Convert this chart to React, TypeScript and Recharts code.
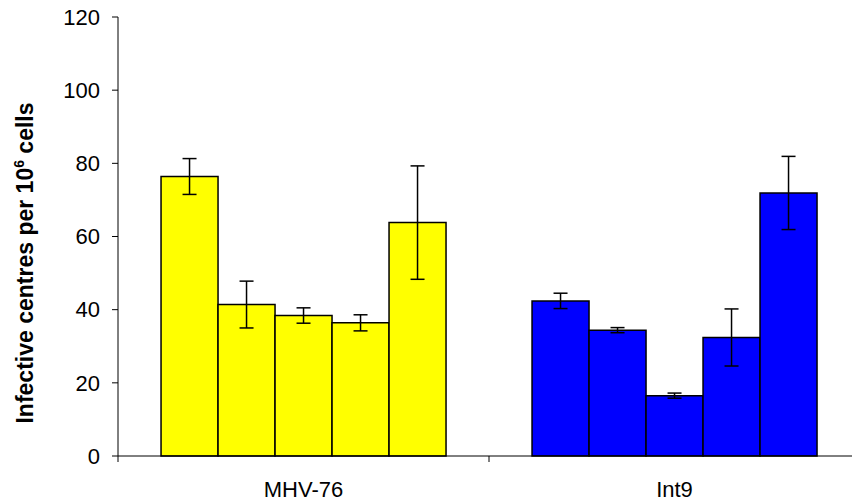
import { BarChart, Bar, Cell, XAxis, YAxis, ErrorBar } from 'recharts'

const categories = ['MHV-76', 'Int9']
const mhv76Means = [76.4, 41.4, 38.4, 36.4, 63.8]
const mhv76Errors = [4.9, 6.4, 2.1, 2.2, 15.5]
const int9Means = [42.4, 34.4, 16.5, 32.4, 71.9]
const int9Errors = [2.1, 0.7, 0.7, 7.8, 10.0]
const groupColors = ['#FFFF00', '#0000FF']
const yTicks = [0, 20, 40, 60, 80, 100, 120]

const seriesKeys = [0, 1, 2, 3, 4]
const allMeans = [mhv76Means, int9Means]
const allErrors = [mhv76Errors, int9Errors]

const data = categories.map((name, i) => {
  const row: Record<string, string | number> = { name }
  seriesKeys.forEach((k) => {
    row[`v${k}`] = allMeans[i][k]
    row[`e${k}`] = allErrors[i][k]
  })
  return row
})

const FONT = '"Liberation Sans", Arial, sans-serif'

// category label at the centre, tick mark at the left edge of each category
function XTick(props: any) {
  const { x, y, payload } = props
  const half = payload?.offset ?? 0
  return (
    <g>
      <line x1={x - half} y1={y} x2={x - half} y2={y + 6} stroke="#000" strokeWidth={1} />
      <text x={x} y={y + 41} textAnchor="middle" fontSize={22} fontFamily={FONT} fill="#000">
        {payload.value}
      </text>
    </g>
  )
}

function AxisTitle() {
  return (
    <text
      x={33}
      y={263}
      transform="rotate(-90, 33, 263)"
      textAnchor="middle"
      fontSize={23}
      fontWeight="bold"
      fontFamily={FONT}
      fill="#000"
    >
      Infective centres per 10
      <tspan dy={-9} fontSize={14}>6</tspan>
      <tspan dy={9}> cells</tspan>
    </text>
  )
}

export default function App() {
  return (
    <div style={{ position: 'absolute', left: 0, top: 0, width: 852, height: 504, overflow: 'hidden', background: '#fff' }}>
      <BarChart
        width={870}
        height={504}
        data={data}
        margin={{ top: 17, right: 10, bottom: 0, left: 0 }}
        barGap={0}
        barCategoryGap="11.6%"
      >
        <XAxis
          dataKey="name"
          height={48}
          axisLine={{ stroke: '#000', strokeWidth: 1 }}
          tickLine={false}
          tickSize={0}
          tickMargin={0}
          tick={<XTick />}
          interval={0}
        />
        <YAxis
          width={118}
          domain={[0, 120]}
          ticks={yTicks}
          tickSize={6}
          tickMargin={12}
          axisLine={{ stroke: '#000', strokeWidth: 1 }}
          tickLine={{ stroke: '#000', strokeWidth: 1 }}
          tick={{ fill: '#000', fontSize: 22, fontFamily: FONT }}
          label={<AxisTitle />}
        />
        {seriesKeys.map((k) => (
          <Bar key={k} dataKey={`v${k}`} stroke="#000" strokeWidth={1.5} isAnimationActive={false}>
            {data.map((_, i) => (
              <Cell key={`cell-${i}`} fill={groupColors[i]} />
            ))}
            <ErrorBar dataKey={`e${k}`} width={7} stroke="#000" strokeWidth={1.5} isAnimationActive={false} />
          </Bar>
        ))}
      </BarChart>
    </div>
  )
}
